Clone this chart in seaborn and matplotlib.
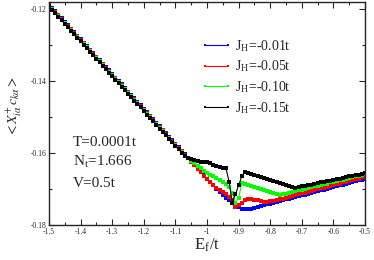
import numpy as np
import pandas as pd
import matplotlib as mpl
mpl.use("Agg")
import matplotlib.pyplot as plt
import seaborn as sns

# E_f/t grid, step 0.01 from -1.5 to -0.5
e_f = np.round(np.arange(-1.5, -0.495, 0.01), 2)

# values in units of 1e-4
# linear part (E_f = -1.50 ... -1.07), the four curves sit almost on top of each other
front_001 = [-1186, -1196, -1205, -1215, -1225, -1235, -1244, -1254, -1264, -1273,
             -1283, -1293, -1302, -1312, -1322, -1332, -1341, -1351, -1361, -1370,
             -1380, -1390, -1399, -1409, -1419, -1429, -1438, -1448, -1458, -1467,
             -1477, -1487, -1496, -1506, -1516, -1526, -1535, -1545, -1555, -1564,
             -1574, -1584, -1593, -1603]
front_005 = [-1188, -1198, -1207, -1217, -1227, -1237, -1246, -1256, -1266, -1275,
             -1285, -1295, -1304, -1314, -1324, -1334, -1343, -1353, -1363, -1372,
             -1382, -1392, -1401, -1411, -1421, -1431, -1440, -1450, -1460, -1469,
             -1479, -1489, -1498, -1508, -1518, -1528, -1537, -1547, -1557, -1566,
             -1576, -1586, -1595, -1605]
front_010 = [-1190, -1200, -1209, -1219, -1229, -1239, -1248, -1258, -1268, -1277,
             -1287, -1297, -1306, -1316, -1326, -1336, -1345, -1355, -1365, -1374,
             -1384, -1394, -1403, -1413, -1423, -1433, -1442, -1452, -1462, -1471,
             -1481, -1491, -1500, -1510, -1520, -1530, -1539, -1549, -1559, -1568,
             -1578, -1588, -1597, -1607]
front_015 = [-1192, -1202, -1211, -1221, -1231, -1241, -1250, -1260, -1270, -1279,
             -1289, -1299, -1308, -1318, -1328, -1338, -1347, -1357, -1367, -1376,
             -1386, -1396, -1405, -1415, -1425, -1435, -1444, -1454, -1464, -1473,
             -1483, -1493, -1502, -1512, -1522, -1532, -1541, -1551, -1561, -1570,
             -1580, -1590, -1599, -1609]

# E_f = -1.06 ... -0.50
tail_001 = [-1613, -1622, -1632, -1642, -1652, -1662,
            -1672, -1681, -1690, -1699, -1708, -1716, -1724, -1731, -1738, -1745,
            -1751, -1755, -1757, -1757, -1755, -1752, -1750, -1748, -1745, -1743,
            -1741, -1739, -1736, -1734, -1732, -1729, -1727, -1725, -1722, -1720,
            -1718, -1716, -1713, -1711, -1709, -1706, -1704, -1702, -1699, -1697,
            -1695, -1693, -1690, -1688, -1686, -1683, -1681, -1679, -1676, -1674,
            -1672]
tail_005 = [-1615, -1624, -1634, -1644, -1654, -1664,
            -1673, -1682, -1690, -1697, -1703, -1708, -1714, -1721, -1732, -1750,
            -1746, -1740, -1732, -1727, -1728, -1731, -1730, -1733, -1735, -1735,
            -1734, -1733, -1731, -1729, -1727, -1724, -1722, -1720, -1717, -1715,
            -1712, -1710, -1708, -1706, -1703, -1701, -1698, -1696, -1694, -1691,
            -1689, -1687, -1685, -1682, -1680, -1678, -1675, -1673, -1671, -1668,
            -1666]
tail_010 = [-1615, -1622, -1629, -1636, -1643, -1650,
            -1655, -1660, -1665, -1670, -1675, -1680, -1686, -1695, -1712, -1740,
            -1725, -1684, -1686, -1689, -1692, -1695, -1697, -1700, -1703, -1706,
            -1708, -1711, -1714, -1717, -1715, -1713, -1711, -1708, -1706, -1704,
            -1702, -1700, -1698, -1695, -1693, -1691, -1689, -1687, -1685, -1682,
            -1680, -1678, -1676, -1674, -1671, -1669, -1667, -1665, -1663, -1660,
            -1658]
tail_015 = [-1615, -1618, -1620, -1622, -1624, -1625,
            -1624, -1628, -1632, -1635, -1638, -1641, -1643, -1680, -1738, -1715,
            -1690, -1665, -1652, -1655, -1658, -1660, -1663, -1666, -1669, -1672,
            -1674, -1677, -1680, -1683, -1686, -1688, -1691, -1694, -1697, -1695,
            -1693, -1691, -1690, -1688, -1686, -1684, -1682, -1680, -1678, -1677,
            -1675, -1673, -1671, -1669, -1667, -1665, -1664, -1662, -1660, -1658,
            -1656]

labels = [r"J$_\mathregular{H}$=-0.01t", r"J$_\mathregular{H}$=-0.05t",
          r"J$_\mathregular{H}$=-0.10t", r"J$_\mathregular{H}$=-0.15t"]
colors = ["#0000ff", "#ff0000", "#00ff00", "#000000"]
fronts = [front_001, front_005, front_010, front_015]
tails = [tail_001, tail_005, tail_010, tail_015]

sns.set_style("ticks")
plt.rcParams["font.family"] = ["Liberation Serif", "DejaVu Serif"]
plt.rcParams["mathtext.fontset"] = "stix"

fig = plt.figure(figsize=(3.74, 2.60), dpi=100)
ax = fig.add_axes([0.131, 0.135, 0.845, 0.857])

for lab, col, front, tail in zip(labels, colors, fronts, tails):
    df = pd.DataFrame({"E": e_f, "val": np.array(front + tail) * 1e-4})
    sns.lineplot(data=df, x="E", y="val", ax=ax, color=col, label=lab,
                 marker="s", markersize=2.2, markeredgewidth=0,
                 linewidth=0.8, sort=False)

ax.set_xlim(-1.5, -0.5)
ax.set_ylim(-0.18, -0.118)
ax.xaxis.set_major_locator(mpl.ticker.MultipleLocator(0.1))
ax.xaxis.set_minor_locator(mpl.ticker.MultipleLocator(0.05))
ax.yaxis.set_major_locator(mpl.ticker.MultipleLocator(0.02))
ax.yaxis.set_minor_locator(mpl.ticker.MultipleLocator(0.01))
ax.xaxis.set_major_formatter(mpl.ticker.FuncFormatter(lambda v, p: f"{v:g}"))
ax.yaxis.set_major_formatter(mpl.ticker.FuncFormatter(lambda v, p: f"{v:.2f}"))
ax.tick_params(which="both", direction="in", top=True, right=True,
               labelsize=5.5, width=0.8, pad=2)
ax.tick_params(which="major", length=4)
ax.tick_params(which="minor", length=2)
for s in ax.spines.values():
    s.set_linewidth(1.0)

ax.set_xlabel(r"E$_\mathregular{f}$/t", fontsize=12, labelpad=1)
ax.set_ylabel(r"$<X^{+}_{i\alpha}\,c_{k\alpha}>$", fontsize=10)
ax.yaxis.set_label_coords(-0.078, 0.53)

ax.text(0.076, 0.372, "T=0.0001t", transform=ax.transAxes, fontsize=11, va="center")
ax.text(0.076, 0.283, r"N$_\mathregular{t}$=1.666", transform=ax.transAxes, fontsize=11, va="center")
ax.text(0.076, 0.188, "V=0.5t", transform=ax.transAxes, fontsize=11, va="center")

ax.legend(loc="upper left", bbox_to_anchor=(0.46, 0.87), frameon=False,
          fontsize=10, numpoints=2, handlelength=2.2, handletextpad=0.2,
          labelspacing=0.35, borderpad=0, markerscale=0.8)

fig.savefig("out.png", dpi=100)
